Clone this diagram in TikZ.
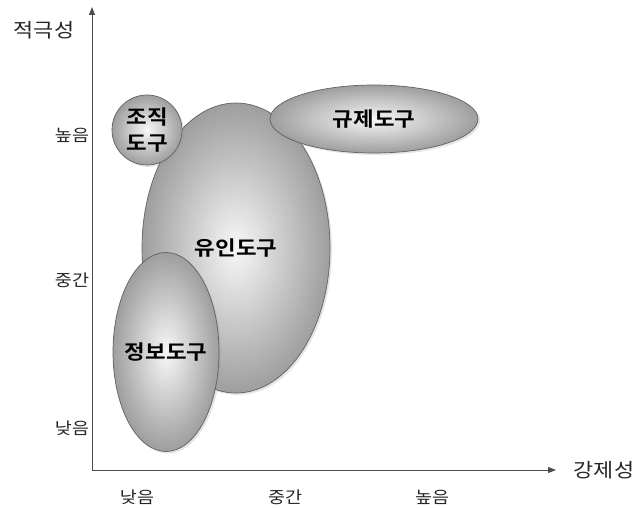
\documentclass[tikz,border=0pt]{standalone}
\usepackage{fontspec}
\setmainfont{Noto Sans CJK KR}[BoldFont={Noto Sans CJK KR Bold},FakeStretch=1.12]
\usetikzlibrary{arrows.meta,shapes.geometric,shadows}
\begin{document}
\begin{tikzpicture}[x=1pt,y=-1pt,
  axis/.style={draw=black!70,line width=0.9pt,-{Triangle[length=8pt,width=6pt]}},
  blob/.style={ellipse,inner sep=0pt,draw=black!62,line width=0.7pt,
    shading=radial,inner color=white!97!black,outer color=black!38,
    drop shadow={shadow xshift=2pt,shadow yshift=-2pt,opacity=0.25,fill=black!40}},
  bloblab/.style={font=\bfseries\fontsize{20}{26}\selectfont,align=center,inner sep=0pt},
  axlab/.style={font=\fontsize{19.5}{22}\selectfont,text=black!85},
  ticklab/.style={font=\fontsize{16.5}{18}\selectfont,text=black!85}]
\useasboundingbox (0,0) rectangle (635,508);
\coordinate (O) at (92,470);
\coordinate (ytop) at (92,7);
\coordinate (xend) at (556,470);
\draw[axis] (O) -- (ytop);
\draw[axis] (O) -- (xend);
\node[axlab] (ylab) at (44,30) {적극성};
\node[axlab] (xlab) at (604,470) {강제성};
\node[ticklab] (yh) at (72,135) {높음};
\node[ticklab] (ym) at (72,280) {중간};
\node[ticklab] (yl) at (72,428) {낮음};
\node[ticklab] (xl) at (137,497) {낮음};
\node[ticklab] (xm) at (285,497) {중간};
\node[ticklab] (xh) at (432,497) {높음};
\node[blob,minimum width=188pt,minimum height=290pt] (yuin) at (236,248) {};
\node[bloblab] (yuinlab) at (yuin.center) {유인도구};
\node[blob,minimum width=106pt,minimum height=199pt] (jeongbo) at (166,352) {};
\node[bloblab] (jeongbolab) at (jeongbo.center) {정보도구};
\node[blob,minimum width=70pt,minimum height=70pt] (jojik) at (147,130) {};
\node[bloblab] (jojiklab) at (jojik.center) {조직\\도구};
\node[blob,minimum width=208pt,minimum height=68pt] (gyuje) at (374,119) {};
\node[bloblab] (gyujelab) at (gyuje.center) {규제도구};
\end{tikzpicture}
\end{document}
